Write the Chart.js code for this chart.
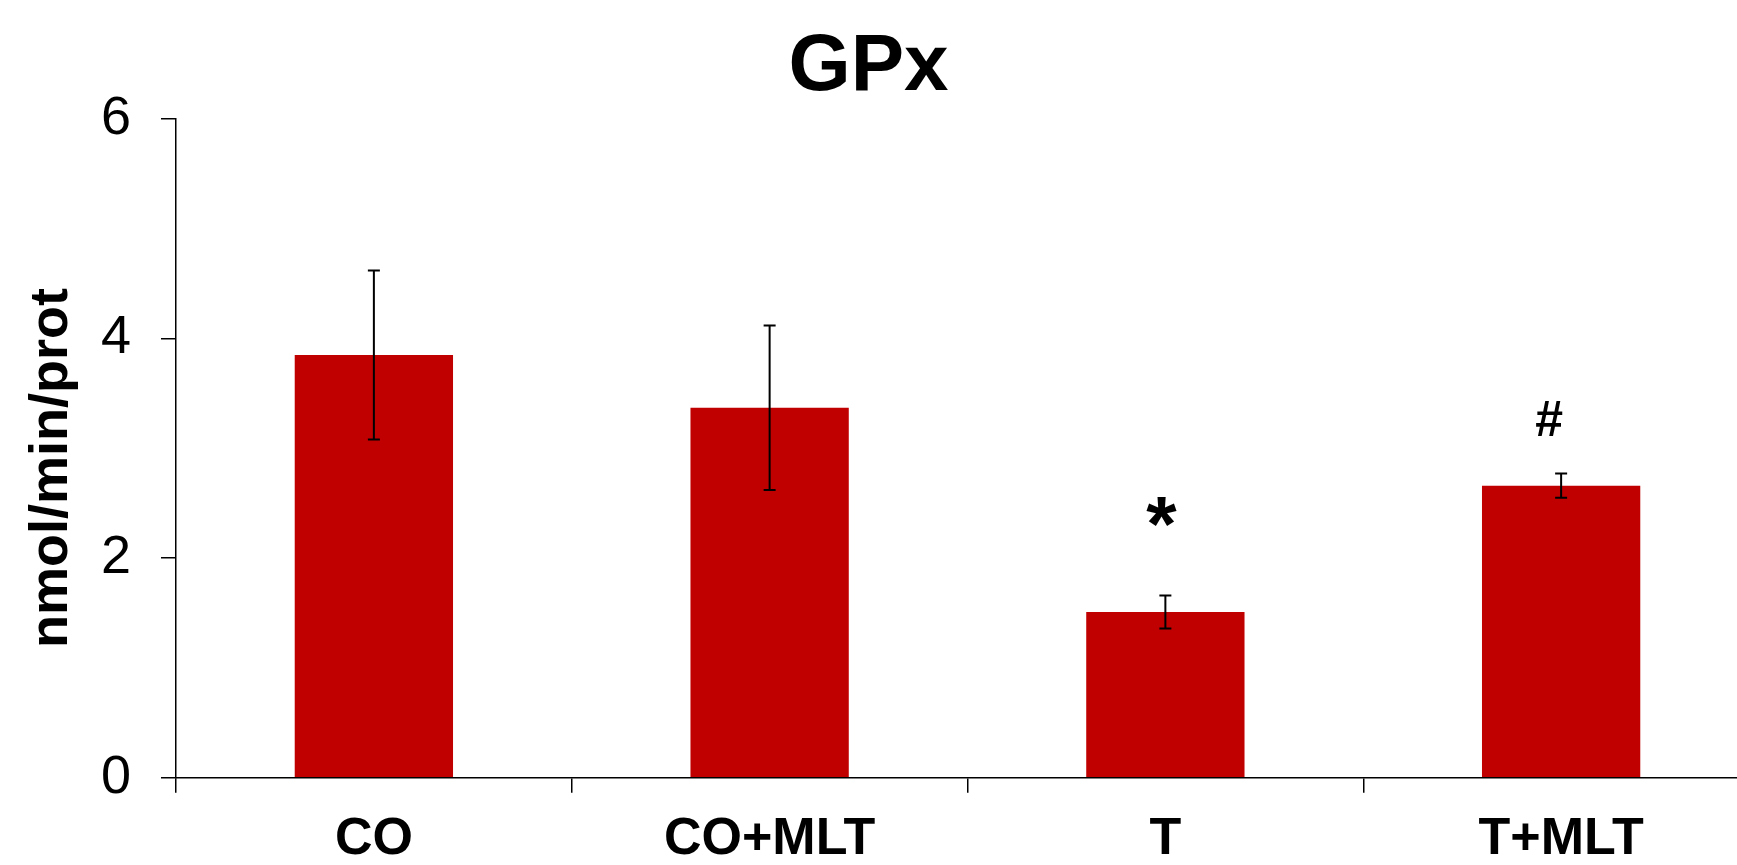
<!DOCTYPE html>
<html>
<head>
<meta charset="utf-8">
<script src="https://cdn.jsdelivr.net/npm/chart.js@4.4.0/dist/chart.umd.min.js"></script>
<style>
  html, body { margin: 0; padding: 0; background: #fff; overflow: hidden; }
  #wrap { position: absolute; left: -22px; top: 0; width: 1781px; height: 865px; }
</style>
</head>
<body>
<div id="wrap"><canvas id="chart"></canvas></div>
<script>
let groups = ['CO', 'CO+MLT', 'T', 'T+MLT']
let means = [3.85, 3.37, 1.51, 2.66]
let errors = [0.77, 0.75, 0.15, 0.11]
let marks = ['', '', '*', '#']
let yTicks = [0, 2, 4, 6]

const FONT = "'Liberation Sans', Arial, sans-serif"

// error bars + significance marks, placed through the scales
const errorBars = {
  id: 'errorBars',
  afterDatasetsDraw(chart) {
    let ctx = chart.ctx
    let y = chart.scales.y
    let bars = chart.getDatasetMeta(0).data
    ctx.save()
    ctx.strokeStyle = '#000'
    ctx.lineWidth = 2
    bars.forEach((bar, i) => {
      let top = y.getPixelForValue(means[i] + errors[i])
      let bot = y.getPixelForValue(means[i] - errors[i])
      ctx.beginPath()
      ctx.moveTo(bar.x, top); ctx.lineTo(bar.x, bot)
      ctx.moveTo(bar.x - 6, top); ctx.lineTo(bar.x + 6, top)
      ctx.moveTo(bar.x - 6, bot); ctx.lineTo(bar.x + 6, bot)
      ctx.stroke()
      if (marks[i]) {
        let st = marks[i] == '*'
          ? {font: 'bold 78px ' + FONT, dx: -4, dy: 44}
          : {font: 'bold 50px ' + FONT, dx: -12, dy: 38}
        ctx.fillStyle = '#000'
        ctx.font = st.font
        ctx.textAlign = 'center'
        ctx.textBaseline = 'alphabetic'
        ctx.fillText(marks[i], bar.x + st.dx, top - st.dy)
      }
    })
    ctx.restore()
  }
}

// vertical axis title, a little below the axis middle as in the source figure
const yTitle = {
  id: 'yTitle',
  afterDraw(chart) {
    let ctx = chart.ctx
    ctx.save()
    ctx.font = 'bold 54px ' + FONT
    ctx.translate(74, 468)
    ctx.rotate(-Math.PI / 2)
    ctx.fillStyle = '#000'
    ctx.textAlign = 'center'
    ctx.textBaseline = 'middle'
    ctx.fillText('nmol/min/prot', 0, 0)
    ctx.restore()
  }
}

let ctx = document.getElementById('chart').getContext('2d')
let chart = new Chart(ctx, {
  type: 'bar',
  data: {
    labels: groups,
    datasets: [{
      data: means,
      backgroundColor: '#c00000',
      borderWidth: 0,
      barPercentage: 0.4,
      categoryPercentage: 1
    }]
  },
  options: {
    responsive: true,
    maintainAspectRatio: false,
    animation: false,
    devicePixelRatio: 1,
    layout: { padding: 0 },
    plugins: {
      legend: { display: false },
      tooltip: { enabled: false },
      title: {
        display: true,
        text: 'GPx',
        color: '#000',
        font: { family: FONT, size: 80, weight: 'bold' },
        padding: { top: 20, bottom: 3 }
      }
    },
    scales: {
      x: {
        offset: true,
        grid: { drawOnChartArea: false, tickLength: 15, color: '#000', lineWidth: 1.5, offset: true },
        border: { color: '#000', width: 1.5 },
        ticks: { color: '#000', padding: 16, maxRotation: 0, autoSkip: false,
                 font: { family: FONT, size: 52, weight: 'bold' } },
        afterFit(s) { s.height = 87.3 }
      },
      y: {
        min: 0,
        max: 6,
        afterBuildTicks(s) { s.ticks = yTicks.map(v => ({ value: v })) },
        grid: { drawOnChartArea: false, tickLength: 15, color: '#000', lineWidth: 1.5 },
        border: { color: '#000', width: 1.5 },
        ticks: { color: '#000', padding: 30, font: { family: FONT, size: 54 } },
        afterFit(s) { s.width = 198 }
      }
    }
  },
  plugins: [errorBars, yTitle]
})
</script>
</body>
</html>
